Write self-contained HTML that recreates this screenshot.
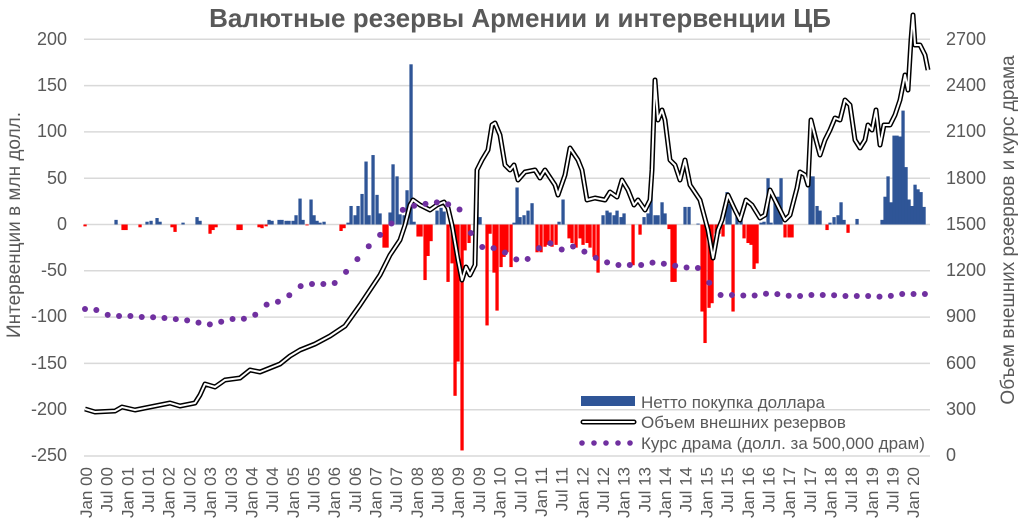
<!DOCTYPE html>
<html><head><meta charset="utf-8">
<style>
body{margin:0;background:#fff;width:1023px;height:520px;overflow:hidden;font-family:"Liberation Sans","DejaVu Sans",sans-serif}
svg text{font-family:"Liberation Sans","DejaVu Sans",sans-serif;fill:#595959}
</style></head><body>
<svg id="c" width="1023" height="520" viewBox="0 0 1023 520" xmlns="http://www.w3.org/2000/svg">
<text x="520" y="27" font-size="26" font-weight="bold" text-anchor="middle">Валютные резервы Армении и интервенции ЦБ</text>
<g id="grid" stroke="#d9d9d9" stroke-width="1.5"></g>
<g id="bars"></g>
<g id="lines"></g>
<g font-size="18" text-anchor="end">
<text x="67" y="45">200</text><text x="67" y="91">150</text><text x="67" y="137">100</text><text x="67" y="184">50</text><text x="67" y="230">0</text><text x="67" y="276">-50</text><text x="67" y="322">-100</text><text x="67" y="369">-150</text><text x="67" y="415">-200</text><text x="67" y="461">-250</text>
</g>
<g font-size="18" text-anchor="start">
<text x="946" y="45">2700</text><text x="946" y="91">2400</text><text x="946" y="137">2100</text><text x="946" y="184">1800</text><text x="946" y="230">1500</text><text x="946" y="276">1200</text><text x="946" y="322">900</text><text x="946" y="369">600</text><text x="946" y="415">300</text><text x="946" y="461">0</text>
</g>
<text transform="translate(20,225) rotate(-90)" font-size="19" text-anchor="middle">Интервенции в млн долл.</text>
<text transform="translate(1014,230) rotate(-90)" font-size="19" text-anchor="middle">Объем внешних резервов и курс драма</text>
<g id="xl" font-size="17" text-anchor="end"></g>
<g font-size="17">
<rect x="581" y="396" width="54" height="10" fill="#2f5597"/>
<text x="641" y="408">Нетто покупка доллара</text>
<line x1="583" y1="422" x2="634" y2="422" stroke="#000" stroke-width="5" stroke-linecap="round"/>
<line x1="583" y1="422" x2="634" y2="422" stroke="#fff" stroke-width="2" stroke-linecap="round"/>
<text x="641" y="428">Объем внешних резервов</text>
<g fill="#7030a0"><circle cx="582" cy="443" r="2.8"/><circle cx="594" cy="443" r="2.8"/><circle cx="606" cy="443" r="2.8"/><circle cx="618" cy="443" r="2.8"/><circle cx="630" cy="443" r="2.8"/></g>
<text x="641" y="449">Курс драма (долл. за 500,000 драм)</text>
</g>
</svg>
<script>
var NS="http://www.w3.org/2000/svg";
function el(p,t,a){var e=document.createElementNS(NS,t);for(var k in a)e.setAttribute(k,a[k]);p.appendChild(e);return e;}
var g=document.getElementById('grid');
for(var i=0;i<10;i++){var y=39.3+i*46.3;el(g,'line',{x1:84,x2:930,y1:y,y2:y});}
var xl=document.getElementById('xl');
var labs=[];for(var yr=0;yr<=20;yr++){var s=(yr<10?'0':'')+yr;labs.push('Jan '+s);if(yr<20)labs.push('Jul '+s);}
labs.forEach(function(l,i){var x=86+i*20.68+6;var t=el(xl,'text',{transform:'translate('+x+',467) rotate(-90)'});t.textContent=l;});
function vy(v){return 224.5-v*0.926;}
var bars=[[85,-2],[116,5],[123,-6],[126,-6],[140,-3],[147,3],[151,4],[157,7],[160,3],[172,-3],[175,-8],[183,2],[197,8],[200,4],[210,-10],[213,-6],[216,-3],[238,-6],[241,-6],[259,-3],[262,-4],[266,-2],[269,5],[272,4],[279,5],[282,5],[286,4],[289,4],[293,4],[296,10],[300,28],[303,5],[307,-1],[311,27],[314,10],[317,4],[320,2],[324,3],[341,-7],[344,-4],[348,2],[351,20],[355,10],[358,20],[362,33],[366,68],[369,10],[373,75],[377,32],[380,12],[384,-25],[387,-25],[390,13],[393,65],[397,52],[400,11],[404,10],[407,37],[411,173],[414,3],[418,-13],[421,-13],[425,-60],[428,-34],[431,-18],[437,15],[441,18],[444,14],[448,-62],[452,-42],[455,-185],[458,-148],[462,-244],[465,-28],[469,-20],[477,24],[480,8],[487,-109],[490,-10],[494,-52],[497,-93],[501,-46],[504,-35],[507,-30],[511,-46],[514,2],[517,40],[520,8],[524,10],[528,15],[532,23],[537,-30],[541,-30],[545,-24],[548,-22],[552,-24],[556,-22],[559,3],[563,27],[569,-15],[572,-20],[576,-25],[580,-15],[583,-22],[587,-20],[590,-25],[594,-35],[598,-52],[603,10],[607,15],[610,13],[614,10],[617,15],[621,8],[624,12],[633,-44],[640,-11],[644,8],[648,12],[651,39],[655,10],[658,10],[662,24],[665,12],[669,-5],[672,-62],[675,-62],[685,19],[689,19],[698,1],[702,-94],[705,-128],[709,-90],[712,-85],[716,-10],[719,-10],[723,-13],[727,35],[730,22],[733,-94],[737,10],[741,10],[744,-15],[748,-20],[751,-22],[754,-48],[757,-42],[761,2],[764,3],[768,50],[771,2],[775,25],[778,30],[781,50],[785,-14],[789,-14],[792,-14],[810,52],[813,52],[817,20],[820,15],[827,-6],[830,2],[834,8],[838,10],[841,24],[844,5],[848,-9],[857,6],[882,5],[885,30],[888,52],[891,24],[894,96],[897,96],[900,95],[903,123],[906,62],[909,27],[912,20],[915,43],[918,38],[921,35],[924,19]];
var bg=document.getElementById('bars');
bars.forEach(function(b){var y=vy(b[1]);var y0=vy(0);el(bg,'rect',{x:b[0]-1.6,width:3.3,y:Math.min(y,y0),height:Math.abs(y-y0),fill:b[1]>=0?'#2f5597':'#ff0000'});});
var R=[[85,409],[95,412],[115,411],[122,407],[135,410],[160,405],[170,403],[180,406],[195,403],[200,395],[205,384],[215,387],[225,380],[240,378],[250,370],[260,372],[280,364],[290,356],[300,350],[315,344],[330,336],[345,326],[360,305],[370,290],[380,275],[390,255],[400,240],[405,225],[410,205],[413,200],[420,205],[430,210],[437,205],[444,202],[448,208],[452,225],[458,260],[462,280],[466,267],[470,275],[475,265],[477,170],[482,160],[488,150],[492,125],[495,123],[500,135],[505,165],[510,170],[514,165],[518,180],[525,172],[535,170],[540,178],[545,170],[555,185],[558,195],[565,175],[570,148],[578,160],[582,170],[587,200],[595,198],[605,200],[610,192],[617,197],[622,180],[628,190],[634,205],[638,200],[645,210],[650,200],[652,170],[655,80],[658,120],[662,110],[665,120],[670,160],[675,165],[680,180],[685,160],[690,185],[700,200],[708,230],[713,258],[718,230],[722,220],[728,195],[735,210],[740,220],[746,200],[752,205],[760,218],[765,215],[770,190],[775,200],[785,220],[790,215],[797,188],[800,172],[805,175],[808,185],[811,120],[816,140],[820,155],[825,140],[830,130],[835,118],[840,120],[845,100],[850,105],[855,140],[860,148],[865,140],[868,125],[872,130],[876,110],[880,145],[884,125],[890,125],[895,115],[900,100],[905,75],[908,90],[911,40],[913,15],[915,45],[920,45],[925,55],[928,70]];
var d='M'+R.map(function(p){return p[0]+','+p[1];}).join(' L');
var lg=document.getElementById('lines');
el(lg,'path',{d:d,fill:'none',stroke:'#000','stroke-width':5,'stroke-linejoin':'round'});
el(lg,'path',{d:d,fill:'none',stroke:'#fff','stroke-width':2,'stroke-linejoin':'round'});
var D=[[85,309],[97,310],[108,315],[118,316],[130,316],[140,317],[150,317],[165,318],[175,319],[185,320],[196,322],[207,325],[220,322],[232,319],[243,319],[255,315],[265,305],[285,300],[295,289],[305,284],[313,284],[325,284],[335,283],[345,273],[355,262],[365,250],[375,240],[385,230],[395,220],[405,207],[420,205],[435,202],[445,204],[455,205],[465,215],[470,230],[475,247],[490,247],[500,250],[510,255],[520,262],[530,258],[540,247],[550,243],[560,250],[575,246],[590,255],[600,260],[615,265],[630,265],[643,265],[655,262],[670,265],[690,268],[700,268],[705,270],[710,285],[715,293],[720,295],[735,295],[750,296],[760,295],[770,293],[790,296],[800,296],[810,295],[830,295],[845,296],[870,296],[885,297],[900,294],[925,294]];
function interp(x){for(var i=0;i<D.length-1;i++){if(x>=D[i][0]&&x<=D[i+1][0]){var t=(x-D[i][0])/(D[i+1][0]-D[i][0]);return D[i][1]+t*(D[i+1][1]-D[i][1]);}}return D[D.length-1][1];}
for(var x=85;x<=926;x+=11.35){el(lg,'circle',{cx:x,cy:interp(x),r:3,fill:'#7030a0'});}
</script>
</body></html>
